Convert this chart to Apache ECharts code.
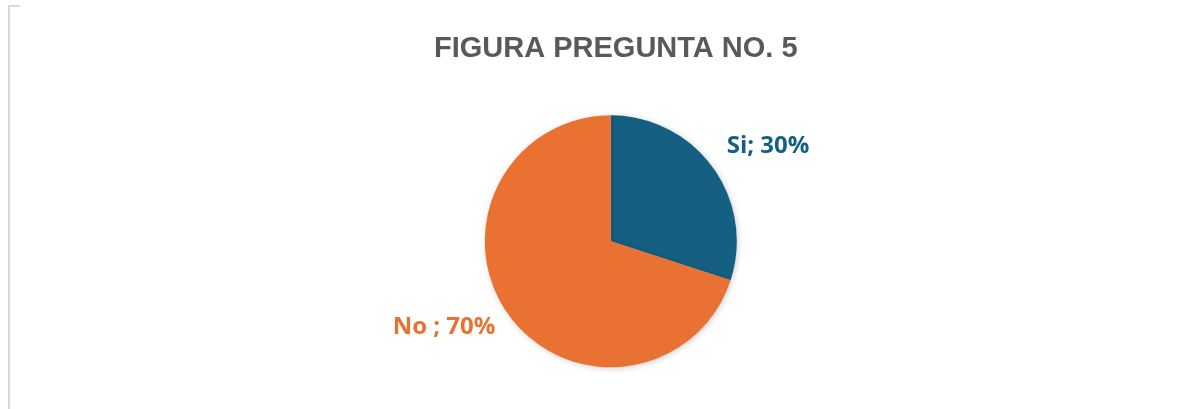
<!DOCTYPE html>
<html>
<head>
<meta charset="utf-8">
<script src="https://cdn.jsdelivr.net/npm/echarts@6/dist/echarts.min.js"></script>
<style>
    html, body { margin: 0; padding: 0; background: #fff; }
    #demo { width: 1200px; height: 409px; }
</style>
</head>
<body>
<div id="demo"></div>
<script>
// datos del gráfico
var categorias = ['Si', 'No'];
var valores = [30, 70];
var colores = ['#156082', '#E97132'];
// posición de cada etiqueta (fracción del ancho / alto)
var etiquetas_pos = [[0.640, 0.358], [0.370, 0.799]];

var myChart = echarts.init(document.getElementById('demo'));

var datos = categorias.map(function (c, i) {
    return {
        name: c,
        value: valores[i],
        itemStyle: { color: colores[i] },
        label: { color: colores[i] }
    };
});

var option = {
    animation: false,
    title: {
        text: 'FIGURA PREGUNTA NO. 5',
        left: 429,
        top: 29,
        textStyle: {
            fontFamily: 'Liberation Sans, Arial',
            fontWeight: 'bold',
            fontSize: 29,
            color: '#595959'
        }
    },
    graphic: [{
        type: 'polyline',
        shape: { points: [[9, 409], [9, 6], [20, 6]] },
        style: { stroke: '#d9d9d9', lineWidth: 2, fill: null }
    }],
    series: [{
        type: 'pie',
        center: ['50.9%', '59%'],
        radius: 126,
        startAngle: 90,
        clockwise: true,
        data: datos,
        itemStyle: {
            shadowBlur: 6,
            shadowColor: 'rgba(0,0,0,0.2)',
            shadowOffsetX: 1,
            shadowOffsetY: 1
        },
        label: {
            show: true,
            formatter: function (p) {
                return p.name === 'No' ? 'No ; ' + p.value + '%' : p.name + '; ' + p.value + '%';
            },
            fontFamily: 'Open Sans, Lato, sans-serif',
            fontWeight: 'bold',
            fontSize: 24
        },
        labelLine: { show: false },
        labelLayout: function (params) {
            var p = etiquetas_pos[params.dataIndex];
            return { x: p[0] * 1200, y: p[1] * 409, align: 'center', verticalAlign: 'middle' };
        }
    }]
};

myChart.setOption(option);
window.onresize = function () {
    myChart.resize();
};
</script>
</body>
</html>
